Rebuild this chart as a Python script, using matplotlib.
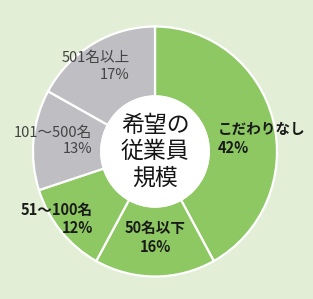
import matplotlib.pyplot as plt
from matplotlib.patches import Circle

plt.rcParams['font.family'] = ['Noto Sans CJK JP', 'DejaVu Sans']

# データ
labels = ['こだわりなし', '50名以下', '51～100名', '101～500名', '501名以上']
shares = [42, 16, 12, 13, 17]
colors = ['#8dc863', '#8dc863', '#8dc863', '#bebec3', '#bebec3']
center_title = '希望の\n従業員\n規模'

fig = plt.figure(figsize=(3.13, 2.99), dpi=100)
fig.patch.set_facecolor('#e2eed5')
ax = fig.add_axes([0, 0, 1, 1])
ax.set_facecolor('#e2eed5')

ax.pie(shares, colors=colors, startangle=90, counterclock=False,
       radius=1.0, wedgeprops=dict(width=0.56, edgecolor='white', linewidth=1.6))
ax.add_patch(Circle((0, 0), 0.45, facecolor='white', edgecolor='none', zorder=3))

# 中心 (155, 151.5) px, 半径 横122 / 縦125 px
ax.set_aspect('auto')
ax.set_xlim(-155 / 122, 158 / 122)
ax.set_ylim(-147.5 / 125, 151.5 / 125)
ax.axis('off')

ax.text(0, 0.0, center_title, ha='center', va='center', fontsize=16.5,
        linespacing=1.18, color='#151515', zorder=4)

def lab(i):
    return f'{labels[i]}\n{shares[i]}%'

ax.text(0.516, 0.105, lab(0), ha='left', va='center', fontsize=10.5,
        fontweight='bold', color='#1a1a1a', linespacing=1.2)
ax.text(0.0, -0.69, lab(1), ha='center', va='center', fontsize=10.5,
        fontweight='bold', color='#1a1a1a', linespacing=1.25)
ax.text(-0.508, -0.54, lab(2), ha='right', va='center', fontsize=10.5,
        fontweight='bold', color='#1a1a1a', linespacing=1.2)
ax.text(-0.516, 0.085, lab(3), ha='right', va='center', fontsize=10.5,
        color='#444444', linespacing=1.2)
ax.text(-0.205, 0.68, lab(4), ha='right', va='center', fontsize=10.5,
        color='#444444', linespacing=1.2)

fig.savefig('out.png', dpi=100, facecolor=fig.get_facecolor())
